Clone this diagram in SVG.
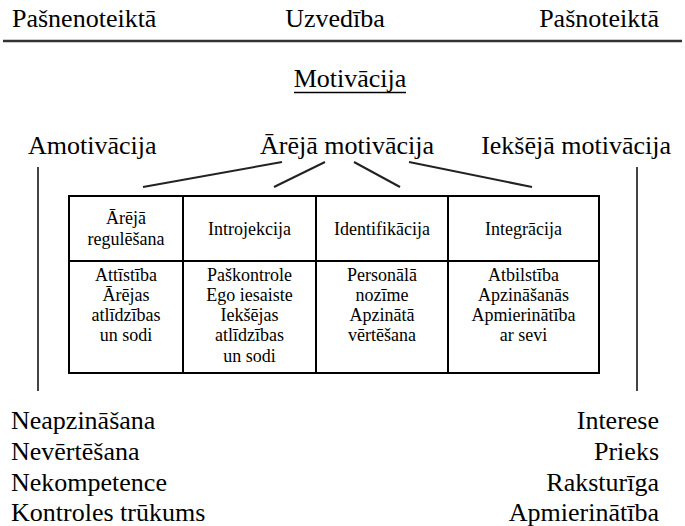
<svg xmlns="http://www.w3.org/2000/svg" width="685" height="526" viewBox="0 0 685 526">
<style>
text{font-family:'Liberation Serif',serif;fill:#000}
.big{font-size:26px}
.sm{font-size:18px;text-anchor:middle}
.ln{stroke:#222;stroke-width:2;fill:none}
.vl{stroke:#444;stroke-width:2;fill:none}
.tb{stroke:#000;stroke-width:2;fill:none}
</style>
<rect width="685" height="526" fill="#fff"/>
<g id="top" font-family="Liberation Serif">
<text class="big" x="12" y="27">Pašnenoteiktā</text>
<text class="big" x="335" y="27" text-anchor="middle">Uzvedība</text>
<text class="big" x="659" y="27" text-anchor="end">Pašnoteiktā</text>
<line x1="3" y1="41" x2="682" y2="41" stroke="#333" stroke-width="2.5"/>
</g>
<g id="motivacija" font-family="Liberation Serif">
<text class="big" x="350" y="87" text-anchor="middle">Motivācija</text>
<line x1="294" y1="92.5" x2="406" y2="92.5" stroke="#000" stroke-width="1.5"/>
</g>
<g id="amotivacija" font-family="Liberation Serif">
<text class="big" x="28" y="154">Amotivācija</text>
</g>
<g id="areja" font-family="Liberation Serif">
<text class="big" x="347" y="154" text-anchor="middle">Ārējā motivācija</text>
</g>
<g id="ieksja" font-family="Liberation Serif">
<text class="big" x="671" y="154" text-anchor="end">Iekšējā motivācija</text>
</g>
<g id="connectors">
<line class="ln" x1="143" y1="187" x2="282" y2="162"/>
<line class="ln" x1="274" y1="187" x2="325" y2="162"/>
<line class="ln" x1="354" y1="162" x2="400" y2="187"/>
<line class="ln" x1="409" y1="162" x2="532" y2="187"/>
<line class="vl" x1="38" y1="167" x2="38" y2="391"/>
<line class="vl" x1="637" y1="167" x2="637" y2="391"/>
</g>
<g id="table">
<rect class="tb" x="69" y="196" width="530" height="177"/>
<line class="tb" x1="69" y1="261" x2="599" y2="261"/>
<line class="tb" x1="183" y1="196" x2="183" y2="373"/>
<line class="tb" x1="316" y1="196" x2="316" y2="373"/>
<line class="tb" x1="448" y1="196" x2="448" y2="373"/>
</g>
<g id="col1" font-family="Liberation Serif">
<text class="sm" x="126" y="224">Ārējā</text>
<text class="sm" x="126" y="245">regulēšana</text>
<text class="sm" x="126" y="281">Attīstība</text>
<text class="sm" x="126" y="301">Ārējas</text>
<text class="sm" x="126" y="321">atlīdzības</text>
<text class="sm" x="126" y="341">un sodi</text>
</g>
<g id="col2" font-family="Liberation Serif">
<text class="sm" x="249.5" y="235">Introjekcija</text>
<text class="sm" x="249.5" y="281">Paškontrole</text>
<text class="sm" x="249.5" y="301">Ego iesaiste</text>
<text class="sm" x="249.5" y="321">Iekšējas</text>
<text class="sm" x="249.5" y="341">atlīdzības</text>
<text class="sm" x="249.5" y="362">un sodi</text>
</g>
<g id="col3" font-family="Liberation Serif">
<text class="sm" x="382" y="235">Identifikācija</text>
<text class="sm" x="382" y="281">Personālā</text>
<text class="sm" x="382" y="301">nozīme</text>
<text class="sm" x="382" y="321">Apzinātā</text>
<text class="sm" x="382" y="341">vērtēšana</text>
</g>
<g id="col4" font-family="Liberation Serif">
<text class="sm" x="523.5" y="235">Integrācija</text>
<text class="sm" x="523.5" y="281">Atbilstība</text>
<text class="sm" x="523.5" y="301">Apzināšanās</text>
<text class="sm" x="523.5" y="321">Apmierinātība</text>
<text class="sm" x="523.5" y="341">ar sevi</text>
</g>
<g id="left-list" font-family="Liberation Serif">
<text class="big" x="11" y="429">Neapzināšana</text>
<text class="big" x="11" y="460">Nevērtēšana</text>
<text class="big" x="11" y="491">Nekompetence</text>
<text class="big" x="11" y="521">Kontroles trūkums</text>
</g>
<g id="right-list" font-family="Liberation Serif" text-anchor="end">
<text class="big" x="659" y="429">Interese</text>
<text class="big" x="659" y="460">Prieks</text>
<text class="big" x="659" y="491">Raksturīga</text>
<text class="big" x="659" y="521">Apmierinātība</text>
</g>
</svg>
